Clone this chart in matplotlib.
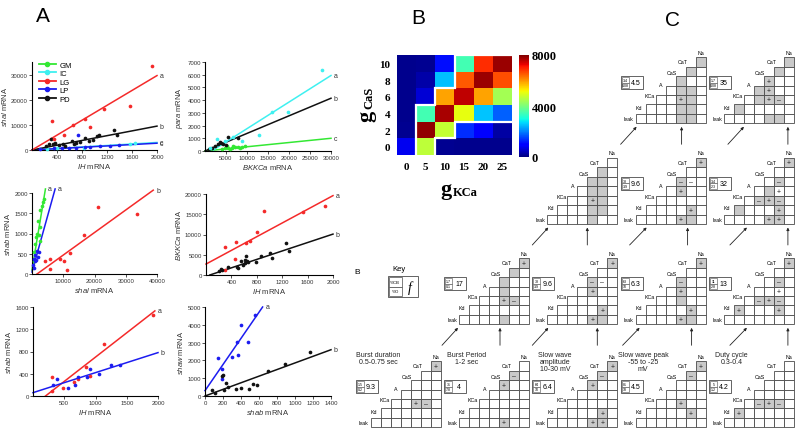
import numpy as np
import matplotlib
matplotlib.use("Agg")
import matplotlib.pyplot as plt
from matplotlib.patches import Rectangle
from matplotlib.lines import Line2D

plt.rcParams['font.family'] = ['Liberation Sans', 'DejaVu Sans']
plt.rcParams['mathtext.fontset'] = 'custom'
plt.rcParams['mathtext.it'] = 'Liberation Sans:italic'
plt.rcParams['mathtext.rm'] = 'Liberation Sans'

GREEN, CYAN, RED, BLUE, BLACK = '#33e833', '#3ff0f0', '#f42a2a', '#1c1cf0', '#111111'

# ---------------- panel A data ----------------
# IH vs shal
a1_lg_x = [320, 347, 507, 656, 843, 933, 1147, 1563, 1920]
a1_lg_y = [11600, 4300, 5900, 10000, 12300, 9100, 16500, 17500, 33500]
a1_pd_x = [229, 267, 309, 336, 373, 427, 496, 533, 640, 667, 709, 773, 853, 907, 976, 1040, 1067, 1317, 1360]
a1_pd_y = [1600, 2530, 4270, 2270, 2930, 2000, 2530, 1600, 3600, 2270, 2930, 3200, 4930, 3600, 4000, 5600, 5870, 8000, 5870]
a1_lp_x = [133, 347, 480, 587, 709, 736, 853, 923, 1093, 1253, 1387]
a1_lp_y = [270, 800, 670, 800, 670, 5870, 1330, 1330, 1600, 1730, 2000]
a1_ic_x = [240, 400, 827, 1573, 1653]
a1_ic_y = [530, 670, 930, 2270, 2930]
a1_lg_fit_x, a1_lg_fit_y = [0, 2000], [0, 29600]
a1_pd_fit_x, a1_pd_fit_y = [0, 2000], [0, 9500]
a1_ic_fit_x, a1_ic_fit_y = [0, 2000], [0, 3000]
a1_lp_fit_x, a1_lp_fit_y = [0, 2000], [0, 2700]

# BKKCa vs para
a2_ic_x = [1190, 2780, 4760, 6750, 8700, 12900, 15900, 19800, 27800]
a2_ic_y = [260, 980, 790, 1130, 790, 1290, 3030, 3030, 6410]
a2_pd_x = [950, 1590, 2380, 3170, 3570, 3810, 4370, 4920, 5560, 7940]
a2_pd_y = [180, 260, 400, 550, 710, 610, 530, 450, 1130, 1060]
a2_gm_x = [3970, 4760, 5160, 5560, 5950, 6350, 6750, 7140, 7940, 8330, 8730, 9520]
a2_gm_y = [185, 237, 396, 264, 185, 264, 369, 290, 343, 264, 343, 396]
a2_ic_fit_x, a2_ic_fit_y = [1980, 30000], [80, 5940]
a2_pd_fit_x, a2_pd_fit_y = [0, 30000], [0, 4150]
a2_gm_fit_x, a2_gm_fit_y = [0, 30000], [0, 1000]

# shal vs shab
a3_lg_x = [4050, 5650, 5650, 8850, 10130, 11200, 12050, 16500, 21100, 33600]
a3_lg_y = [330, 370, 130, 370, 310, 90, 530, 960, 1650, 1485]
a3_gm_x = [530, 750, 1070, 1390, 1600, 1810, 2130, 2450, 2670, 2670, 3200, 3410, 3730]
a3_gm_y = [310, 540, 730, 920, 1000, 1310, 960, 1150, 820, 1590, 1670, 1770, 1850]
a3_lp_x = [320, 530, 530, 850, 1070, 1390, 1600, 1810, 2130]
a3_lp_y = [230, 150, 380, 310, 460, 350, 580, 420, 540]
a3_lg_fit_x, a3_lg_fit_y = [1600, 38800], [0, 2070]
a3_gm_fit_x, a3_gm_fit_y = [0, 4300], [100, 2100]
a3_lp_fit_x, a3_lp_fit_y = [0, 7400], [50, 2100]

# IH vs BKKCa
a4_lg_x = [295, 306, 463, 479, 626, 700, 810, 910, 1529, 1870]
a4_lg_y = [1280, 6940, 3920, 8220, 7920, 8450, 10700, 15760, 15460, 16970]
a4_pd_x = [200, 232, 253, 348, 496, 507, 558, 584, 610, 610, 636, 650, 662, 794, 873, 1004, 1040, 1265, 1300]
a4_pd_y = [1000, 1430, 1130, 2040, 1880, 1660, 3400, 2410, 2940, 3700, 4680, 3500, 3170, 3170, 4680, 5430, 4150, 7920, 5960]
a4_lg_fit_x, a4_lg_fit_y = [0, 2000], [2700, 19600]
a4_pd_fit_x, a4_pd_fit_y = [60, 2000], [0, 10100]

# IH vs shab
a5_lg_x = [305, 305, 477, 648, 718, 841, 916, 1131, 1913]
a5_lg_y = [342, 84, 144, 252, 312, 522, 360, 942, 1452]
a5_lp_x = [316, 380, 557, 665, 718, 863, 906, 1056, 1254, 1399]
a5_lp_y = [192, 300, 144, 192, 342, 342, 480, 402, 564, 564]
a5_lg_fit_x, a5_lg_fit_y = [200, 1950], [0, 1530]
a5_lp_fit_x, a5_lp_fit_y = [0, 2000], [60, 780]

# shab vs shaw
a6_lp_x = [148, 185, 193, 304, 352, 363, 400, 474, 555]
a6_lp_y = [2113, 1510, 943, 2170, 3057, 2300, 4000, 3057, 4550]
a6_pd_x = [74, 111, 193, 204, 215, 230, 252, 341, 400, 493, 537, 574, 696, 889, 1167]
a6_pd_y = [340, 150, 1100, 1170, 340, 755, 528, 415, 470, 377, 660, 604, 1415, 1790, 2450]
a6_lp_fit_x, a6_lp_fit_y = [0, 640], [300, 5000]
a6_pd_fit_x, a6_pd_fit_y = [0, 1400], [0, 2600]

legend_names = ['GM', 'IC', 'LG', 'LP', 'PD']

# ---------------- panel B data ----------------
g_kca = [0, 5, 10, 15, 20, 25]
g_cas = [0, 2, 4, 6, 8, 10]
spikes = np.array([
    [800, 4650, 150, 100, 100, 100],      # gCaS 0
    [150, 7850, 4700, 1350, 950, 250],    # gCaS 2
    [100, 3450, 7700, 5050, 2550, 1750],  # gCaS 4
    [100, 600, 5900, 7550, 5900, 4400],   # gCaS 6
    [100, 300, 2500, 6500, 7800, 6600],   # gCaS 8
    [100, 150, 1100, 3450, 6900, 7800],   # gCaS 10
])
# band of "good" models per gKCa column (row index range)
band_lo = [None, 0, 1, 2, 2, 2]
band_hi = [None, 2, 3, 5, 5, 5]
cbar_ticks = [0, 4000, 8000]

# ---------------- panel C data ----------------
cond_names = ['Na', 'CaT', 'CaS', 'A', 'KCa', 'Kd', 'leak']
# level 0 = top row of triangles, 3 = bottom row
tri_level = [3, 3, 3, 3, 3, 2, 2, 2, 2, 1, 1, 1, 0, 0]
tri_col = [0, 1, 2, 3, 4, 1, 2, 3, 4, 2, 3, 4, 3, 4]
tri_cb = ['1.5', '31', '64', '81', '5', '1.7', '38', '63', '11', '', '38', '3.4', '3.4', '1.7']
tri_o = ['0.2', '7.8', '10', '18', '1.2', '0.1', '3.9', '10', '2.8', '', '3.9', '2.3', '0.08', '0.08']
tri_f = ['9.3', '4', '6.4', '4.5', '4.2', '17', '9.6', '6.3', '13', '', '9.6', '32', '4.5', '35']
# '.' white, '#' grey, '+'/'-' grey with sign, 'p'/'m' white with +/-
tri_grid = [
    ["......+", ".......", ".......", ".......", "....+-.", ".......", "......."],
    [".......", ".....-.", "....+..", ".......", ".......", ".......", "....+.."],
    ["......+", ".....-.", "....+..", ".......", ".......", ".....+.", "....++."],
    ["......+", ".....-.", ".......", ".......", "....+..", ".....+.", "......."],
    [".......", ".......", ".......", ".......", "...-+-.", ".+.....", "......."],
    ["......+", ".....#.", "....#..", "....#..", "....+-.", ".......", "....#.."],
    ["......+", ".......", "....-m.", "....+..", ".......", ".....+.", "....+#."],
    ["......+", ".......", "....-..", "....+..", "....#..", ".....+.", "....+#."],
    ["......+", ".......", ".....-.", ".....p.", "...-+-.", ".+...+.", "......."],
    [".......", ".....#.", "....##.", "....##.", "....+#.", "....##.", "....#.."],
    ["......+", ".......", "....-m.", "....+..", ".......", ".....+.", "....+#."],
    ["......+", ".......", ".....-.", "....#p.", "...-+-.", ".#...+.", "....++."],
    ["......#", ".....#.", "....#..", "....##.", "....+#.", "....##.", "....##."],
    ["......#", ".....#.", "....+..", "...#+..", "...#+-.", ".#.....", "....##."],
]
bottom_titles = ['Burst duration\n0.5-0.75 sec', 'Burst Period\n1-2 sec',
                 'Slow wave\namplitude\n10-30 mV', 'Slow wave peak\n-55 to -25\nmV',
                 'Duty cycle\n0.3-0.4']

# ---------------- layout ----------------
W, H = 800, 435
fig = plt.figure(figsize=(W / 100, H / 100), dpi=100)


def frac(l, t, r, b):
    return [l / W, 1 - b / H, (r - l) / W, (b - t) / H]


ov = fig.add_axes([0, 0, 1, 1], zorder=0)
ov.set_xlim(0, W)
ov.set_ylim(H, 0)
ov.axis('off')

for letter, x, y in [('A', 43, 16), ('B', 418, 19), ('C', 672, 21)]:
    ov.text(x, y, letter, fontsize=15, ha='center', va='center')


def italic_label(gene):
    return r'$\mathit{' + gene + r'}$ mRNA'


def scatter_box(rect, groups, xlim, ylim, xticks, yticks, xlabel, ylabel):
    ax = fig.add_axes(frac(*rect), zorder=2)
    for color, xs, ys, fx, fy, tag in groups:
        ax.scatter(xs, ys, s=7, color=color, linewidths=0, zorder=3, clip_on=False)
        ax.plot(fx, fy, color=color, lw=1.1, clip_on=False, zorder=2)
        ax.annotate(tag, (fx[-1], fy[-1]), xytext=(2, 0), textcoords='offset points',
                    fontsize=5, va='center', color='#333333', annotation_clip=False)
    ax.set_xlim(*xlim)
    ax.set_ylim(*ylim)
    ax.set_xticks(xticks)
    ax.set_yticks(yticks)
    for s in ['top', 'right']:
        ax.spines[s].set_visible(False)
    for s in ['left', 'bottom']:
        ax.spines[s].set_linewidth(0.8)
    ax.tick_params(labelsize=4.3, length=2, width=0.6, pad=1, colors='#333333')
    ax.set_xlabel(xlabel, fontsize=5.5, labelpad=1.5, color='#333333')
    ax.set_ylabel(ylabel, fontsize=5.5, labelpad=1.5, color='#333333')
    return ax


ax1 = scatter_box((32, 63, 157, 151), [
    (CYAN, a1_ic_x, a1_ic_y, a1_ic_fit_x, a1_ic_fit_y, 'c'),
    (BLUE, a1_lp_x, a1_lp_y, a1_lp_fit_x, a1_lp_fit_y, 'c'),
    (BLACK, a1_pd_x, a1_pd_y, a1_pd_fit_x, a1_pd_fit_y, 'b'),
    (RED, a1_lg_x, a1_lg_y, a1_lg_fit_x, a1_lg_fit_y, 'a'),
], (0, 2000), (0, 35000), [400, 800, 1200, 1600, 2000], [0, 10000, 20000, 30000],
    italic_label('IH'), italic_label('shal'))
handles = [Line2D([], [], color=c, marker='o', markersize=3, lw=1.3)
           for c in [GREEN, CYAN, RED, BLUE, BLACK]]
ax1.legend(handles, legend_names, loc='upper left', bbox_to_anchor=(0.02, 1.06),
           frameon=False, fontsize=5.5, handlelength=2.2, labelspacing=0.15,
           handletextpad=0.5, borderpad=0.1)

scatter_box((205, 63, 331, 152), [
    (GREEN, a2_gm_x, a2_gm_y, a2_gm_fit_x, a2_gm_fit_y, 'c'),
    (BLACK, a2_pd_x, a2_pd_y, a2_pd_fit_x, a2_pd_fit_y, 'b'),
    (CYAN, a2_ic_x, a2_ic_y, a2_ic_fit_x, a2_ic_fit_y, 'a'),
], (0, 30000), (0, 7000), [5000, 10000, 15000, 20000, 25000, 30000],
    list(range(0, 7001, 1000)), italic_label('BKKCa'), italic_label('para'))

scatter_box((32, 194, 157, 275), [
    (RED, a3_lg_x, a3_lg_y, a3_lg_fit_x, a3_lg_fit_y, 'b'),
    (GREEN, a3_gm_x, a3_gm_y, a3_gm_fit_x, a3_gm_fit_y, 'a'),
    (BLUE, a3_lp_x, a3_lp_y, a3_lp_fit_x, a3_lp_fit_y, 'a'),
], (0, 40000), (0, 2000), [10000, 20000, 30000, 40000], [0, 500, 1000, 1500, 2000],
    italic_label('shal'), italic_label('shab'))

scatter_box((206, 195, 333, 276), [
    (RED, a4_lg_x, a4_lg_y, a4_lg_fit_x, a4_lg_fit_y, 'a'),
    (BLACK, a4_pd_x, a4_pd_y, a4_pd_fit_x, a4_pd_fit_y, 'b'),
], (0, 2000), (0, 20000), [400, 800, 1200, 1600, 2000], [0, 5000, 10000, 15000, 20000],
    italic_label('IH'), italic_label('BKKCa'))

scatter_box((33, 308, 158, 397), [
    (RED, a5_lg_x, a5_lg_y, a5_lg_fit_x, a5_lg_fit_y, 'a'),
    (BLUE, a5_lp_x, a5_lp_y, a5_lp_fit_x, a5_lp_fit_y, 'b'),
], (0, 2000), (0, 1600), [500, 1000, 1500, 2000], [0, 400, 800, 1200, 1600],
    italic_label('IH'), italic_label('shab'))

scatter_box((205, 308, 331, 397), [
    (BLUE, a6_lp_x, a6_lp_y, a6_lp_fit_x, a6_lp_fit_y, 'a'),
    (BLACK, a6_pd_x, a6_pd_y, a6_pd_fit_x, a6_pd_fit_y, 'b'),
], (0, 1400), (0, 5000), list(range(0, 1401, 200)), list(range(0, 5001, 1000)),
    italic_label('shab'), italic_label('shaw'))

# ---------------- panel B ----------------
serif = ['Liberation Serif', 'DejaVu Serif']
axb = fig.add_axes(frac(397, 56, 512, 156), zorder=2)
im = axb.imshow(spikes, cmap='jet', vmin=0, vmax=8000, origin='lower', aspect='auto',
                interpolation='nearest')
axb.set_xticks(range(len(g_kca)))
axb.set_xticklabels(g_kca)
axb.set_yticks(range(len(g_cas)))
axb.set_yticklabels(g_cas)
axb.tick_params(length=0, pad=5)
for lab in axb.get_xticklabels() + axb.get_yticklabels():
    lab.set_fontfamily(serif)
    lab.set_fontweight('bold')
    lab.set_fontsize(8)
for s in axb.spines.values():
    s.set_visible(False)

cols = [c for c in range(len(g_kca)) if band_lo[c] is not None]
upper = [(cols[0] - 0.5, band_lo[cols[0]] - 0.5)]
lower = []
for c in cols:
    upper += [(c - 0.5, band_hi[c] + 0.5), (c + 0.5, band_hi[c] + 0.5)]
    lower += [(c - 0.5, band_lo[c] - 0.5), (c + 0.5, band_lo[c] - 0.5)]
lower = lower[1:]
for path in (upper, lower):
    xs, ys = zip(*path)
    axb.plot(xs, ys, color='white', lw=1.6, solid_joinstyle='miter')
axb.set_xlim(-0.5, 5.5)
axb.set_ylim(-0.5, 5.5)

cax = fig.add_axes(frac(519, 56, 529, 158), zorder=2)
cb = fig.colorbar(im, cax=cax, ticks=cbar_ticks)
cb.outline.set_visible(False)
cax.tick_params(length=0, pad=2)
for lab in cax.get_yticklabels():
    lab.set_fontfamily(serif)
    lab.set_fontweight('bold')
    lab.set_fontsize(9)

ov.text(446, 190, 'g', fontsize=16, fontweight='bold', family=serif, ha='center', va='center')
ov.text(453, 193, 'KCa', fontsize=9, fontweight='bold', family=serif, ha='left', va='center')
ov.text(366, 116, 'g', fontsize=16, fontweight='bold', family=serif, ha='center', va='center',
        rotation=90)
ov.text(369, 109, 'CaS', fontsize=9, fontweight='bold', family=serif, ha='center', va='bottom',
        rotation=90)

# ---------------- panel C ----------------
cell_w, row_h = 10.0, 9.45
col_x = [370.7, 459.0, 547.3, 635.6, 723.9]
level_base = [124.3, 225.0, 325.3, 428.3]
GREY = '#c9c9c9'
EDGE = '#4a4a4a'
arrow_v_dx = {0: {3: 46, 4: 64}, 1: {2: 40, 3: 52, 4: 64}, 2: {1: 41, 2: 50, 3: 56, 4: 64}}
arrow_d_dx = {0: {3: (-15, 1), 4: (4, 20)}, 1: {2: (-15, 1), 3: (-6, 11), 4: (6, 23)},
              2: {1: (-17, -1), 2: (-15, 1), 3: (-13, 4), 4: (6, 23)}}


def draw_triangle(x0, ybase, grid, cb_txt, o_txt, f_txt):
    top = ybase - 7 * row_h
    for r in range(7):
        for c in range(6 - r, 7):
            ch = grid[r][c]
            x, y = x0 + c * cell_w, top + r * row_h
            face = GREY if ch in '#+-' else 'white'
            ov.add_patch(Rectangle((x, y), cell_w, row_h, fc=face, ec=EDGE, lw=0.6))
            sign = {'+': '+', '-': '-', 'p': '+', 'm': '\u2013'}.get(ch)
            if ch == '-':
                sign = '\u2013'
            if sign:
                ov.text(x + cell_w / 2, y + row_h / 2 + 0.3, sign, ha='center', va='center',
                        fontsize=5, color='#222222')
    for r, name in enumerate(cond_names):
        xl = x0 + (6 - r) * cell_w
        yt = top + r * row_h
        if r == 0:
            ov.text(xl + cell_w / 2, yt - 5, name, fontsize=3.8, ha='center', va='center')
        elif r == 6:
            ov.text(x0 - 2, yt + row_h / 2, name, fontsize=3.8, ha='right', va='center')
        else:
            ov.text(xl - 2.5 - (r - 1) * 1.1, yt - 5 + (r - 1) * 1.9, name, fontsize=3.8,
                    ha='center', va='center')
    if f_txt:
        bx, by = x0 - 15, top + 2 * row_h
        ov.add_patch(Rectangle((bx, by), 22, 13, fc='white', ec=EDGE, lw=0.6))
        ov.add_patch(Rectangle((bx + 1, by + 1), 7, 5.5, fc='white', ec=EDGE, lw=0.4))
        ov.add_patch(Rectangle((bx + 1, by + 6.5), 7, 5.5, fc='white', ec=EDGE, lw=0.4))
        ov.text(bx + 4.5, by + 3.8, cb_txt, fontsize=2.6, ha='center', va='center')
        ov.text(bx + 4.5, by + 9.3, o_txt, fontsize=2.6, ha='center', va='center')
        ov.text(bx + 15, by + 6.7, f_txt, fontsize=5, ha='center', va='center')


for i in range(len(tri_level)):
    lev, col = tri_level[i], tri_col[i]
    draw_triangle(col_x[col], level_base[lev], tri_grid[i], tri_cb[i], tri_o[i], tri_f[i])
    if lev < 3:
        yb = level_base[lev]
        vx = col_x[col] + arrow_v_dx[lev][col]
        d0, d1 = arrow_d_dx[lev][col]
        aprops = dict(arrowstyle='-|>', lw=0.6, color='#222222', mutation_scale=4,
                      shrinkA=0, shrinkB=0)
        ov.annotate('', xy=(vx, yb + 3.5), xytext=(vx, yb + 21), arrowprops=aprops)
        ov.annotate('', xy=(col_x[col] + d1, yb + 3.5), xytext=(col_x[col] + d0, yb + 21),
                    arrowprops=aprops)

for k, title in enumerate(bottom_titles):
    ov.text(col_x[k] + 7.5, 352, title, fontsize=5, ha='center', va='top', linespacing=1.05,
            color='#222222')

# key
ov.text(357, 273, 'B', fontsize=6, ha='center', va='center')
ov.text(399, 270, 'Key', fontsize=5.5, ha='center', va='center')
ov.add_patch(Rectangle((388, 277), 30, 21, fc='white', ec=EDGE, lw=0.6))
ov.add_patch(Rectangle((389, 278), 12.5, 9.5, fc='white', ec=EDGE, lw=0.5))
ov.add_patch(Rectangle((389, 287.5), 12.5, 9.5, fc='white', ec=EDGE, lw=0.5))
ov.text(395.2, 282.8, '%CB', fontsize=3.2, ha='center', va='center')
ov.text(395.2, 292.3, '%O', fontsize=3.2, ha='center', va='center')
ov.text(410, 288, 'f', fontsize=10, ha='center', va='center', style='italic', family=serif)

fig.savefig('out.png', dpi=100)
